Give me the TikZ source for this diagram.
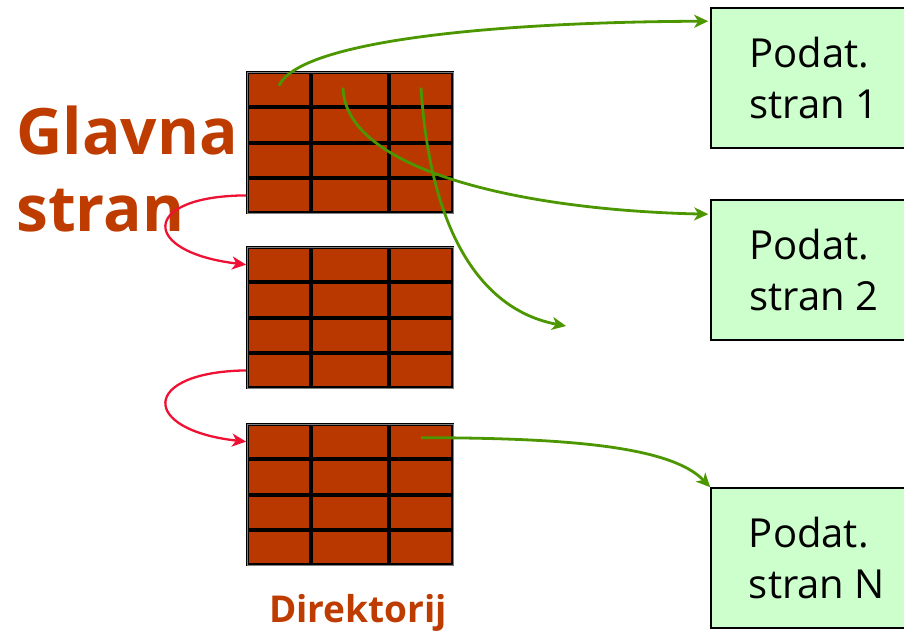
\documentclass[tikz,border=0pt]{standalone}
\usepackage{fontspec}
\setmainfont{Open Sans}
\usetikzlibrary{arrows.meta}
\definecolor{rust}{RGB}{184,56,0}
\definecolor{lblcol}{RGB}{190,60,0}
\definecolor{ptrcol}{RGB}{76,150,0}
\definecolor{nxtcol}{RGB}{238,17,51}
\definecolor{pagecol}{RGB}{204,255,204}

\begin{document}
\begin{tikzpicture}[x=1pt,y=-1pt,
        cell/.style={draw=black,line width=2.8pt,fill=rust,inner sep=0pt},
        datapage/.style={draw=black,line width=1.6pt,fill=pagecol,minimum width=206pt,minimum height=140pt,
            align=left,font=\fontsize{40}{51}\selectfont},
        lbl/.style={text=lblcol,inner sep=0pt,font=\bfseries},
        ptr/.style={draw=ptrcol,line width=2.8pt,-{Stealth[length=14pt,width=13pt,inset=4pt]}},
        nxt/.style={draw=nxtcol,line width=2.3pt,-{Stealth[length=14pt,width=13pt,inset=4pt]}}]
        \useasboundingbox (0,0) rectangle (904,632);

        \foreach \k/\ytop in {1/72,2/247,3/424}{
            \foreach \r in {1,...,4}{
                \foreach \c/\xl/\w in {1/247/64,2/311/78,3/389/64}{
                    \node[cell,minimum width={(\w-1)*1pt},minimum height=34pt]
                        (cell\k-\r-\c) at (\xl+\w/2,\ytop+\r*35.25-17.6) {};
                }
            }
            \draw[gray,line width=0.8pt] (247,\ytop) rectangle (453,\ytop+141);
        }

        \node[datapage] (page1) at (814,78) {Podat.\\stran 1};
        \node[datapage] (page2) at (814,270) {Podat.\\stran 2};
        \node[datapage,minimum width=212pt] (pageN) at (817,558) {Podat.\\stran N};

        \node[lbl,anchor=north west,align=left,font=\bfseries\fontsize{64}{77}\selectfont] (glavna) at (16,106) {Glavna\\stran};
        \node[lbl,anchor=base,font=\bfseries\fontsize{37}{40}\selectfont] (dir) at (358,622) {Direktorij};

        \coordinate (lost) at (566,326);

        \draw[ptr] ([yshift=4pt]cell1-1-1.center) .. controls (300,40) and (500,22) .. ([shift={(-2pt,-14pt)}]page1.north west);
        \draw[ptr] ([shift={(-7pt,2pt)}]cell1-1-2.center) .. controls (345,170) and (520,210) .. ([shift={(-2pt,-15pt)}]page2.north west);
        \draw[ptr] ([yshift=2pt]cell1-1-3.center) .. controls (430,230) and (480,310) .. (lost);
        \draw[ptr] ([yshift=4pt]cell3-1-3.center) .. controls (560,438) and (670,445) .. (pageN.north west);

        \draw[nxt] (cell1-4-1.west) .. controls (140,196) and (140,252) .. (cell2-1-1.west);
        \draw[nxt] (cell2-4-1.west) .. controls (140,372) and (140,430) .. (cell3-1-1.west);
    \end{tikzpicture}
\end{document}
